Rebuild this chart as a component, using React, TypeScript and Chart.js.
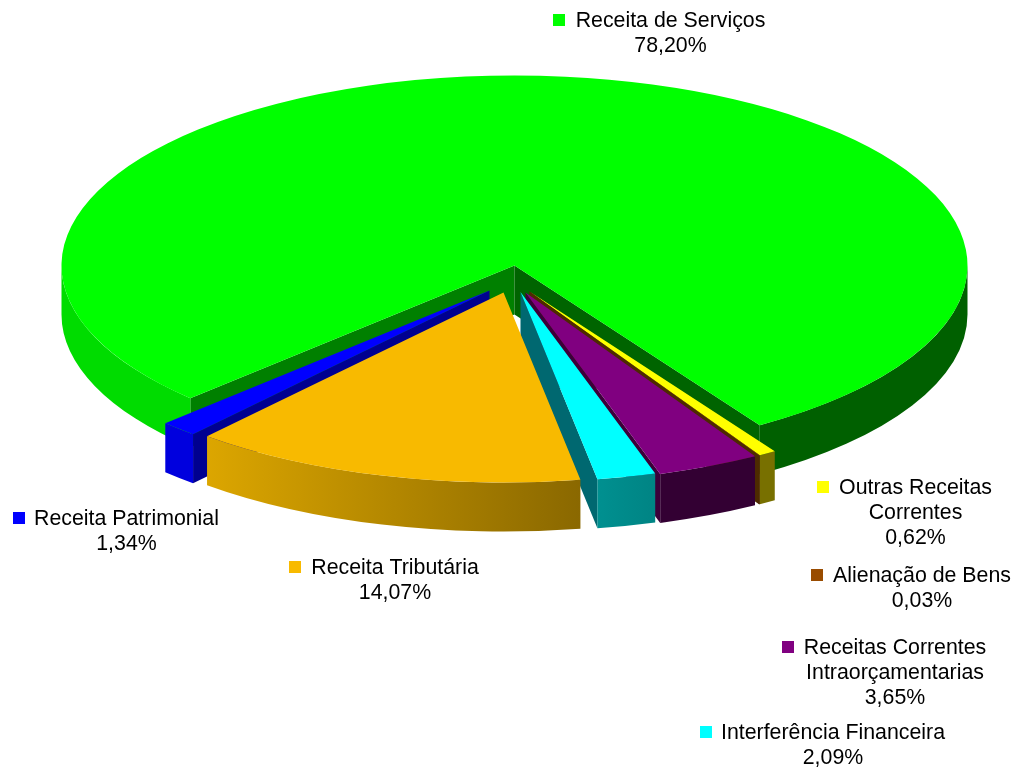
import React, { useEffect, useRef } from "react";
import { Chart, registerables } from "chart.js";

Chart.register(...registerables);

const categories = [
  "Receita de Serviços",
  "Outras Receitas Correntes",
  "Alienação de Bens",
  "Receitas Correntes Intraorçamentarias",
  "Interferência Financeira",
  "Receita Tributária",
  "Receita Patrimonial",
];
const values = [78.2, 0.62, 0.03, 3.65, 2.09, 14.07, 1.34];
const topColors = ["#00FF00", "#FFFF00", "#994C00", "#800080", "#00FFFF", "#F8BA00", "#0000FF"];
const paintOrder = [0, 1, 2, 3, 4, 6, 5];
const explodeX = [0, 15, 15, 11, 6, -11, -25];
const explodeY = [0, 26, 26, 27, 26.5, 27, 25];
// one [left, right] pair per visible stretch of outer wall
const outerWalls = [
  [["#00DC00", "#00DC00"], ["#006000", "#006000"]],
  [["#787000", "#787000"]],
  [["#4D2A00", "#4D2A00"]],
  [["#330033", "#330033"]],
  [["#009090", "#008484"]],
  [["#DCA600", "#8A6800"]],
  [["#0000DE", "#0000DE"]],
];
const startWall = ["#008000", "#4D2A00", "#4D2A00", "#3C003A", "#006870", "#000000", "#000090"];
const endWall = ["#006400", "#4D2A00", "#4D2A00", "#3C003A", "#006870", "#000000", "#000090"];
const labelLines = [
  ["Receita de Serviços"],
  ["Outras Receitas", "Correntes"],
  ["Alienação de Bens"],
  ["Receitas Correntes", "Intraorçamentarias"],
  ["Interferência Financeira"],
  ["Receita Tributária"],
  ["Receita Patrimonial"],
];
const labelCenterX = [670.5, 915.5, 922, 895, 833, 395, 126.5];
const labelFirstY = [21, 488, 576, 648, 733, 568, 519];
const markerLeft = [553, 817, 811, 782, 700, 289, 13];

const SQUASH = 190 / 453;
const DEPTH = 49;
const LINE = 25;
const FONT = '21.33px "Liberation Sans", Arial, sans-serif';

function visibleStretches(a: number, b: number) {
  const out: [number, number][] = [];
  const T = Math.PI * 2;
  for (let k = -1; k < 3; k++) {
    const lo = Math.max(a, k * T);
    const hi = Math.min(b, k * T + Math.PI);
    if (hi > lo) out.push([lo, hi]);
  }
  return out;
}

const pie3d = {
  id: "pie3d",
  beforeDatasetDraw(chart: any) {
    const { ctx } = chart;
    const arcs = chart.getDatasetMeta(0).data;
    paintOrder.forEach((i) => {
      const arc = arcs[i];
      const { x, y, startAngle, endAngle, outerRadius: R } = arc;
      const rx = R;
      const ry = R * SQUASH;
      const sx = x + explodeX[i];
      const sy = y + explodeY[i];
      const px = (a: number) => sx + rx * Math.cos(a);
      const py = (a: number) => sy + ry * Math.sin(a);

      const quad = (a: number, color: string) => {
        ctx.beginPath();
        ctx.moveTo(sx, sy);
        ctx.lineTo(px(a), py(a));
        ctx.lineTo(px(a), py(a) + DEPTH);
        ctx.lineTo(sx, sy + DEPTH);
        ctx.closePath();
        ctx.fillStyle = color;
        ctx.fill();
      };
      if (Math.cos(startAngle) < 0) quad(startAngle, startWall[i]);
      if (Math.cos(endAngle) > 0) quad(endAngle, endWall[i]);

      const stretches = visibleStretches(startAngle, endAngle);
      stretches.forEach(([lo, hi], n) => {
        const pair = outerWalls[i][Math.min(n, outerWalls[i].length - 1)];
        const grad = ctx.createLinearGradient(px(hi), 0, px(lo), 0);
        grad.addColorStop(0, pair[0]);
        grad.addColorStop(1, pair[1]);
        ctx.beginPath();
        ctx.ellipse(sx, sy, rx, ry, 0, lo, hi, false);
        ctx.ellipse(sx, sy + DEPTH, rx, ry, 0, hi, lo, true);
        ctx.closePath();
        ctx.fillStyle = grad;
        ctx.fill();
      });

      ctx.save();
      ctx.translate(sx, sy);
      ctx.scale(1, SQUASH);
      ctx.translate(-x, -y);
      arc.draw(ctx);
      ctx.restore();
    });
    return false;
  },
  afterDraw(chart: any) {
    const { ctx } = chart;
    ctx.save();
    ctx.font = FONT;
    ctx.textBaseline = "middle";
    ctx.textAlign = "center";
    categories.forEach((_, i) => {
      ctx.fillStyle = topColors[i];
      ctx.fillRect(markerLeft[i], labelFirstY[i] - 7, 12, 12);
      ctx.fillStyle = "#000000";
      const lines = [...labelLines[i], values[i].toFixed(2).replace(".", ",") + "%"];
      lines.forEach((t, n) => ctx.fillText(t, labelCenterX[i], labelFirstY[i] + n * LINE));
    });
    ctx.restore();
  },
};

export default function App() {
  const ref = useRef<HTMLCanvasElement>(null);
  useEffect(() => {
    const chart = new Chart(ref.current as any, {
      type: "pie",
      data: {
        labels: categories,
        datasets: [
          {
            data: values,
            backgroundColor: topColors,
            borderWidth: 0,
            clip: false,
            radius: 453,
          } as any,
        ],
      },
      options: {
        responsive: false,
        animation: false,
        events: [],
        rotation: 225.7,
        layout: { padding: { left: 8, bottom: 241 } },
        plugins: { legend: { display: false }, tooltip: { enabled: false } },
      } as any,
      plugins: [pie3d as any],
    });
    return () => chart.destroy();
  }, []);
  return (
    <div style={{ position: "absolute", left: 0, top: 0, width: 1021, height: 772, background: "#fff" }}>
      <canvas ref={ref} width={1021} height={772} style={{ display: "block" }} />
    </div>
  );
}
